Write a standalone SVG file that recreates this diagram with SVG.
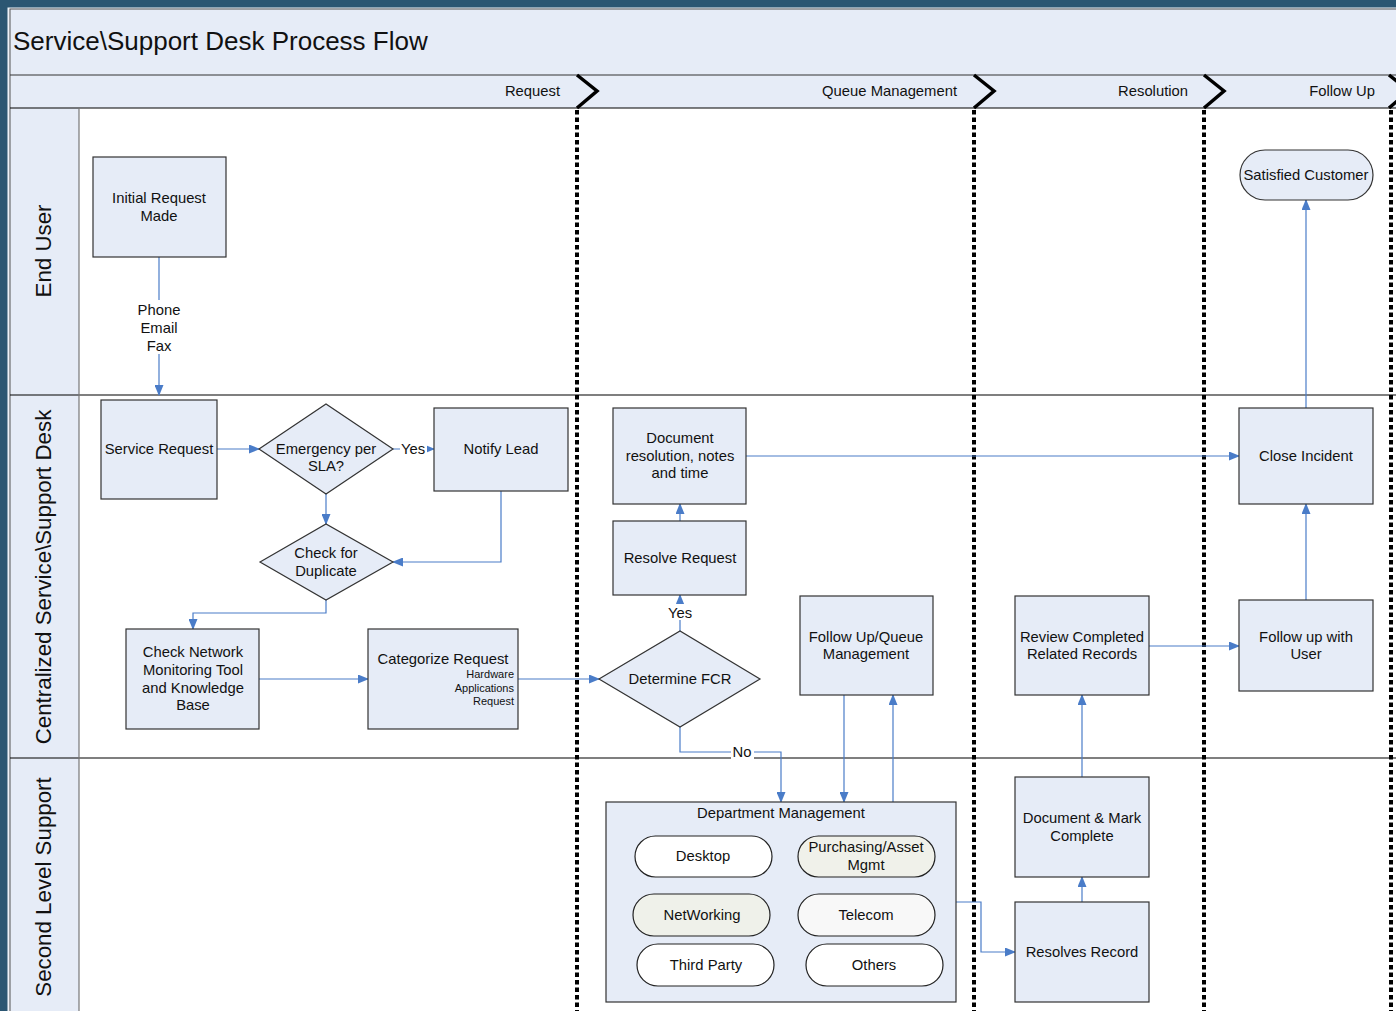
<svg xmlns="http://www.w3.org/2000/svg" width="1396" height="1011" viewBox="0 0 1396 1011">
<defs>
<marker id="ah" markerWidth="11" markerHeight="9" refX="10" refY="4.5" orient="auto" markerUnits="userSpaceOnUse">
<path d="M0,0 L11,4.5 L0,9 Z" fill="#4a7cc8"/>
</marker>
<style>
text{font-family:"Liberation Sans",Arial,sans-serif;fill:#111;}
.n{fill:#e6ecf7;stroke:#333;stroke-width:1.2;}
.t{font-size:14.8px;text-anchor:middle;}
.s{font-size:11px;text-anchor:end;}
.c{fill:none;stroke:#4a7cc8;stroke-width:1.2;}
.lane{font-size:22.3px;text-anchor:middle;}
.ph{font-size:14.8px;text-anchor:end;}
.dot{stroke:#000;stroke-width:4;stroke-dasharray:4.5 3;fill:none;}
.chev{fill:none;stroke:#000;stroke-width:3.5;}
.lbl{fill:#fff;}
</style>
</defs>
<rect x="0" y="0" width="1396" height="1011" fill="#2b5672"/>
<rect x="8" y="8" width="1400" height="1010" fill="#e6ecf7" stroke="#f4f6fa" stroke-width="1"/>
<rect x="10" y="9" width="1400" height="1010" fill="none" stroke="#555" stroke-width="1"/>
<rect x="79" y="108" width="1330" height="910" fill="#fff"/>
<g id="frame">
<line x1="10" y1="75" x2="1396" y2="75" stroke="#333" stroke-width="1"/>
<line x1="10" y1="108" x2="1396" y2="108" stroke="#000" stroke-width="1.2"/>
<line x1="10" y1="395" x2="1396" y2="395" stroke="#000" stroke-width="1.2"/>
<line x1="10" y1="758" x2="1396" y2="758" stroke="#000" stroke-width="1.2"/>
<line x1="79" y1="108" x2="79" y2="1011" stroke="#777" stroke-width="1.2"/>
<text x="13" y="50" style="font-size:26px">Service\Support Desk Process Flow</text>
<text class="ph" x="560" y="96">Request</text>
<text class="ph" x="957" y="96">Queue Management</text>
<text class="ph" x="1188" y="96">Resolution</text>
<text class="ph" x="1375" y="96">Follow Up</text>
<path class="chev" d="M577,75 L597,91 L577,108"/>
<path class="chev" d="M974,75 L994,91 L974,108"/>
<path class="chev" d="M1204,75 L1224,91 L1204,108"/>
<path class="chev" d="M1389,75 L1409,91 L1389,108"/>
<line class="dot" x1="577" y1="110" x2="577" y2="1011"/>
<line class="dot" x1="974" y1="110" x2="974" y2="1011"/>
<line class="dot" x1="1204" y1="110" x2="1204" y2="1011"/>
<line class="dot" x1="1391" y1="110" x2="1391" y2="1011"/>
<text class="lane" transform="translate(51,251) rotate(-90)">End User</text>
<text class="lane" transform="translate(51,577) rotate(-90)">Centralized Service\Support Desk</text>
<text class="lane" transform="translate(51,887) rotate(-90)">Second Level Support</text>
</g>
<g id="connectors">
<path class="c" d="M159,257 V395" marker-end="url(#ah)"/>
<rect class="lbl" x="135" y="300" width="48" height="54"/>
<text class="t" x="159" y="315">Phone</text>
<text class="t" x="159" y="333">Email</text>
<text class="t" x="159" y="351">Fax</text>
<path class="c" d="M217,449 H259" marker-end="url(#ah)"/>
<path class="c" d="M393,449 H434" marker-end="url(#ah)"/>
<rect class="lbl" x="400" y="441" width="27" height="15"/>
<text class="t" x="413" y="454">Yes</text>
<path class="c" d="M326,494 V524" marker-end="url(#ah)"/>
<path class="c" d="M501,491 V562 H393" marker-end="url(#ah)"/>
<path class="c" d="M326,600 V613 H193 V629" marker-end="url(#ah)"/>
<path class="c" d="M259,679 H368" marker-end="url(#ah)"/>
<path class="c" d="M518,679 H599" marker-end="url(#ah)"/>
<path class="c" d="M680,631 V595" marker-end="url(#ah)"/>
<rect class="lbl" x="665" y="604" width="30" height="16"/>
<text class="t" x="680" y="618">Yes</text>
<path class="c" d="M680,521 V504" marker-end="url(#ah)"/>
<path class="c" d="M746,456 H1239" marker-end="url(#ah)"/>
<path class="c" d="M1306,408 V200" marker-end="url(#ah)"/>
<path class="c" d="M1306,600 V504" marker-end="url(#ah)"/>
<path class="c" d="M1149,646 H1239" marker-end="url(#ah)"/>
<path class="c" d="M1082,777 V695" marker-end="url(#ah)"/>
<path class="c" d="M1082,902 V877" marker-end="url(#ah)"/>
<path class="c" d="M956,902 H981 V952 H1015" marker-end="url(#ah)"/>
<path class="c" d="M680,727 V752 H781 V802" marker-end="url(#ah)"/>
<rect class="lbl" x="731" y="744" width="23" height="16"/>
<text class="t" x="742" y="757">No</text>
<path class="c" d="M844,695 V802" marker-end="url(#ah)"/>
<path class="c" d="M893,802 V695" marker-end="url(#ah)"/>
</g>
<g id="initial-request"><rect class="n" x="93" y="157" width="133" height="100"/><text class="t" x="159" y="203">Initial Request</text><text class="t" x="159" y="221">Made</text></g>
<g id="service-request"><rect class="n" x="101" y="400" width="116" height="99"/><text class="t" x="159" y="454">Service Request</text></g>
<g id="emergency"><path class="n" d="M259,449 L326,404 L393,449 L326,494 Z"/><text class="t" x="326" y="454">Emergency per</text><text class="t" x="326" y="471">SLA?</text></g>
<g id="notify-lead"><rect class="n" x="434" y="408" width="134" height="83"/><text class="t" x="501" y="454">Notify Lead</text></g>
<g id="check-duplicate"><path class="n" d="M260,562 L326,524 L393,562 L326,600 Z"/><text class="t" x="326" y="558">Check for</text><text class="t" x="326" y="576">Duplicate</text></g>
<g id="check-network"><rect class="n" x="126" y="629" width="133" height="100"/><text class="t" x="193" y="657">Check Network</text><text class="t" x="193" y="675">Monitoring Tool</text><text class="t" x="193" y="693">and Knowledge</text><text class="t" x="193" y="710">Base</text></g>
<g id="categorize"><rect class="n" x="368" y="629" width="150" height="100"/><text class="t" x="443" y="664">Categorize Request</text><text class="s" x="514" y="678">Hardware</text><text class="s" x="514" y="692">Applications</text><text class="s" x="514" y="705">Request</text></g>
<g id="determine-fcr"><path class="n" d="M599,679 L680,631 L760,679 L680,727 Z"/><text class="t" x="680" y="684">Determine FCR</text></g>
<g id="resolve-request"><rect class="n" x="613" y="521" width="133" height="74"/><text class="t" x="680" y="563">Resolve Request</text></g>
<g id="document-resolution"><rect class="n" x="613" y="408" width="133" height="96"/><text class="t" x="680" y="443">Document</text><text class="t" x="680" y="461">resolution, notes</text><text class="t" x="680" y="478">and time</text></g>
<g id="follow-up-queue"><rect class="n" x="800" y="596" width="133" height="99"/><text class="t" x="866" y="642">Follow Up/Queue</text><text class="t" x="866" y="659">Management</text></g>
<g id="review-completed"><rect class="n" x="1015" y="596" width="134" height="99"/><text class="t" x="1082" y="642">Review Completed</text><text class="t" x="1082" y="659">Related Records</text></g>
<g id="document-mark"><rect class="n" x="1015" y="777" width="134" height="100"/><text class="t" x="1082" y="823">Document &amp; Mark</text><text class="t" x="1082" y="841">Complete</text></g>
<g id="resolves-record"><rect class="n" x="1015" y="902" width="134" height="100"/><text class="t" x="1082" y="957">Resolves Record</text></g>
<g id="close-incident"><rect class="n" x="1239" y="408" width="134" height="96"/><text class="t" x="1306" y="461">Close Incident</text></g>
<g id="follow-up-user"><rect class="n" x="1239" y="600" width="134" height="91"/><text class="t" x="1306" y="642">Follow up with</text><text class="t" x="1306" y="659">User</text></g>
<g id="satisfied-customer"><rect class="n" x="1240" y="150" width="133" height="50" rx="25"/><text class="t" x="1306" y="180">Satisfied Customer</text></g>
<g id="department-management"><rect class="n" x="606" y="802" width="350" height="200"/><text class="t" x="781" y="818">Department Management</text>
<g id="desktop"><rect x="635" y="836" width="137" height="41" rx="20.5" fill="#fff" stroke="#222" stroke-width="1.2"/><text class="t" x="703" y="861">Desktop</text></g>
<g id="purchasing"><rect x="798" y="836" width="137" height="41" rx="20.5" fill="#f0f1ea" stroke="#222" stroke-width="1.2"/><text class="t" x="866" y="852">Purchasing/Asset</text><text class="t" x="866" y="870">Mgmt</text></g>
<g id="networking"><rect x="633" y="894" width="137" height="42" rx="21" fill="#eff1ea" stroke="#222" stroke-width="1.2"/><text class="t" x="702" y="920">NetWorking</text></g>
<g id="telecom"><rect x="798" y="894" width="137" height="42" rx="21" fill="#f8f8f8" stroke="#222" stroke-width="1.2"/><text class="t" x="866" y="920">Telecom</text></g>
<g id="third-party"><rect x="637" y="944" width="137" height="42" rx="21" fill="#fff" stroke="#222" stroke-width="1.2"/><text class="t" x="706" y="970">Third Party</text></g>
<g id="others"><rect x="806" y="944" width="137" height="42" rx="21" fill="#fff" stroke="#222" stroke-width="1.2"/><text class="t" x="874" y="970">Others</text></g>
</g>
</svg>
